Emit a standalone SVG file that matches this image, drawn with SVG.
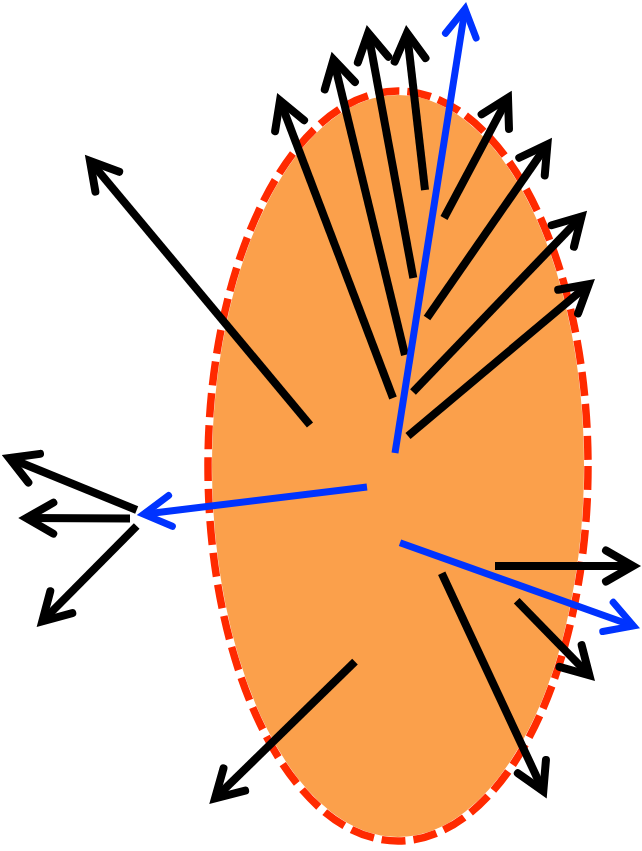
<svg xmlns="http://www.w3.org/2000/svg" width="642" height="851" viewBox="0 0 642 851">
<style>
.k{stroke:#000;stroke-width:8;fill:none;stroke-linecap:butt;marker-end:url(#hk)}
.b{stroke:#0033FF;stroke-width:7;fill:none;stroke-linecap:butt;marker-end:url(#hb)}
</style>
<defs>
<marker id="hk" markerUnits="userSpaceOnUse" viewBox="-40 -25 50 50" markerWidth="50" markerHeight="50" refX="0" refY="0" orient="auto" overflow="visible">
<path d="M-27,-15.5 L0,0 L-27,15.5" fill="none" stroke="#000" stroke-width="8" stroke-linecap="round" stroke-linejoin="miter"/>
</marker>
<marker id="hb" markerUnits="userSpaceOnUse" viewBox="-40 -25 50 50" markerWidth="50" markerHeight="50" refX="0" refY="0" orient="auto" overflow="visible">
<path d="M-27,-15.5 L0,0 L-27,15.5" fill="none" stroke="#0033FF" stroke-width="7" stroke-linecap="round" stroke-linejoin="miter"/>
</marker>
</defs>
<g id="ellipse">
<ellipse cx="398" cy="466" rx="190" ry="375" fill="#FBA04B" stroke="#fff" stroke-width="8"/>
<ellipse cx="398" cy="466" rx="190" ry="375" fill="none" stroke="#FF2A00" stroke-width="7.5" stroke-dasharray="24 8"/>
</g>
<g id="connectors">
<path class="k" d="M310,425 L90,161"/>
<path class="k" d="M393,398 L280,100.5"/>
<path class="k" d="M405,355 L333.5,59.5"/>
<path class="k" d="M413.3,278 L368.2,33"/>
<path class="k" d="M425,190 L407,33"/>
<path class="k" d="M444,218 L508,97.8"/>
<path class="k" d="M427,318 L547.4,144.4"/>
<path class="k" d="M413,392 L581.5,216.5"/>
<path class="k" d="M408,436 L588.8,284.2"/>
<path class="k" d="M136.7,510 L9.2,458"/>
<path class="k" d="M130,518.5 L26.3,518"/>
<path class="k" d="M136.7,526 L42.3,621.3"/>
<path class="k" d="M495,566 L633,566"/>
<path class="k" d="M516.7,600.7 L589.4,675.3"/>
<path class="k" d="M441.7,573.3 L543.3,791.1"/>
<path class="k" d="M355,661.7 L215,798.4"/>
<path class="b" d="M395,453 L465,9"/>
<path class="b" d="M367,487 L143.7,514.2"/>
<path class="b" d="M400,542.7 L633.4,626"/>
</g>
</svg>
